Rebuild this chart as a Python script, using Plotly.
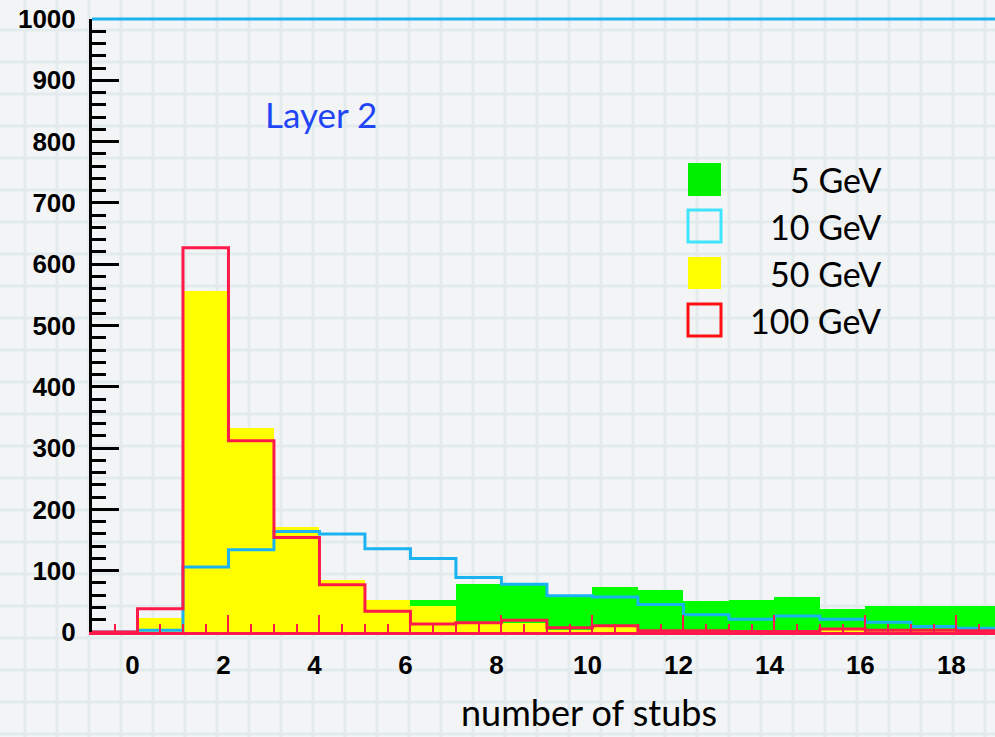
import plotly.graph_objects as go

W, H = 995, 737

# ---- data (bins of width 1, lower edges) ----
bin_lo = list(range(-1, 19))
green_5GeV = [0, 0, 0, 1, 2, 5, 15, 53, 78, 78, 61, 74, 68, 50, 53, 57, 37, 43, 43, 42]
cyan_10GeV = [0, 3, 106, 134, 164, 160, 136, 120, 89, 78, 59, 57, 45, 28, 21, 26, 21, 16, 9, 6]
yellow_50GeV = [0, 23, 556, 333, 171, 85, 53, 42, 14, 15, 3, 8, 2, 1, 1, 1, 2, 1, 1, 1]
red_100GeV = [0, 38, 627, 312, 154, 77, 34, 13, 15, 19, 7, 10, 2, 2, 1, 1, 5, 3, 3, 2]
legend_names = ["5 GeV", "10 GeV", "50 GeV", "100 GeV"]
x_ticks = list(range(0, 20, 2))
y_ticks = list(range(0, 1001, 100))

centers = [b + 0.5 for b in bin_lo]
edges = bin_lo + [bin_lo[-1] + 1]

GREEN = "#00ff00"
YELLOW = "#ffff00"
CYAN = "#1ab2f0"
RED = "#ff1a4a"

fig = go.Figure()
fig.add_trace(go.Bar(x=centers, y=green_5GeV, width=1, marker=dict(color=GREEN, line=dict(width=0)),
                     showlegend=False))
fig.add_trace(go.Bar(x=centers, y=yellow_50GeV, width=1, marker=dict(color=YELLOW, line=dict(width=0)),
                     showlegend=False))
fig.add_trace(go.Scatter(x=edges, y=cyan_10GeV + [cyan_10GeV[-1]], mode="lines", line_shape="hv",
                         line=dict(color=CYAN, width=3), showlegend=False))
fig.add_trace(go.Scatter(x=edges, y=red_100GeV + [red_100GeV[-1]], mode="lines", line_shape="hv",
                         line=dict(color=RED, width=3), showlegend=False))

x0p = 92 / W
y_bot = (H - 632) / H
y_top = (H - 19) / H

tickfont = dict(family="Liberation Sans", size=26, color="black", weight="bold")

fig.update_layout(
    width=W, height=H,
    margin=dict(l=0, r=0, t=0, b=0, pad=0),
    paper_bgcolor="#f2f4f5",
    plot_bgcolor="rgba(0,0,0,0)",
    barmode="overlay", bargap=0,
    xaxis=dict(domain=[x0p, 1], range=[-1, 18.85], showgrid=False, zeroline=False, automargin=False,
               tickmode="array", tickvals=x_ticks, ticktext=[str(v) for v in x_ticks],
               ticks="inside", ticklen=17, tickwidth=2, tickcolor=RED,
               showline=True, linecolor=RED, linewidth=3,
               minor=dict(dtick=0.5, tick0=0, ticks="inside", ticklen=8, tickwidth=2, tickcolor=RED, showgrid=False),
               tickfont=tickfont, ticklabelshift=-5, ticklabelstandoff=8),
    yaxis=dict(domain=[y_bot, y_top], range=[0, 1000], showgrid=False, zeroline=False, automargin=False,
               tickmode="array", tickvals=y_ticks, ticktext=[str(v) for v in y_ticks],
               ticks="inside", ticklen=27, tickwidth=3, tickcolor="black",
               showline=True, linecolor="black", linewidth=3,
               minor=dict(dtick=20, tick0=0, ticks="inside", ticklen=14, tickwidth=3, tickcolor="black", showgrid=False),
               tickfont=tickfont, ticklabelstandoff=8),
)

# grid-paper background
GRID = "#e4ebee"
shapes = []
gx = 25.0
while gx < W:
    shapes.append(dict(type="line", xref="paper", yref="paper", x0=gx / W, x1=gx / W, y0=0, y1=1,
                       line=dict(color=GRID, width=3), layer="below"))
    gx += 32.0
gy = 30.0 - 32.0
while gy < H:
    shapes.append(dict(type="line", xref="paper", yref="paper", x0=0, x1=1, y0=(H - gy) / H, y1=(H - gy) / H,
                       line=dict(color=GRID, width=3), layer="below"))
    gy += 32.0
# top frame line
shapes.append(dict(type="line", xref="paper", yref="paper", x0=x0p, x1=1, y0=y_top, y1=y_top,
                   line=dict(color=CYAN, width=3), layer="above"))

# legend boxes
leg_rows = [(163, 196), (210, 242), (257, 289), (304, 336)]
leg_style = [dict(fillcolor="#00f000", line=dict(width=0)),
             dict(fillcolor="rgba(0,0,0,0)", line=dict(color="#40e4ff", width=3)),
             dict(fillcolor="#ffff00", line=dict(width=0)),
             dict(fillcolor="rgba(0,0,0,0)", line=dict(color="#ff1010", width=3))]
annotations = []
for (t, b), st, name in zip(leg_rows, leg_style, legend_names):
    shapes.append(dict(type="rect", xref="paper", yref="paper", x0=688 / W, x1=721 / W,
                       y0=(H - b) / H, y1=(H - t) / H, layer="above", **st))
    annotations.append(dict(text=name, xref="paper", yref="paper", x=883 / W, y=(H - (t + b) / 2) / H,
                            xanchor="right", yanchor="middle", showarrow=False,
                            font=dict(family="Lato", size=34, color="black")))

annotations.append(dict(text="Layer 2", xref="paper", yref="paper", x=263 / W, y=(H - 114) / H,
                        xanchor="left", yanchor="middle", showarrow=False,
                        font=dict(family="Lato", size=35, color="#1f45f5")))
annotations.append(dict(text="number of stubs", xref="paper", yref="paper", x=589 / W, y=(H - 712) / H,
                        xanchor="center", yanchor="middle", showarrow=False,
                        font=dict(family="Lato", size=36, color="black")))

fig.update_layout(shapes=shapes, annotations=annotations)
fig.write_html("out.html")
